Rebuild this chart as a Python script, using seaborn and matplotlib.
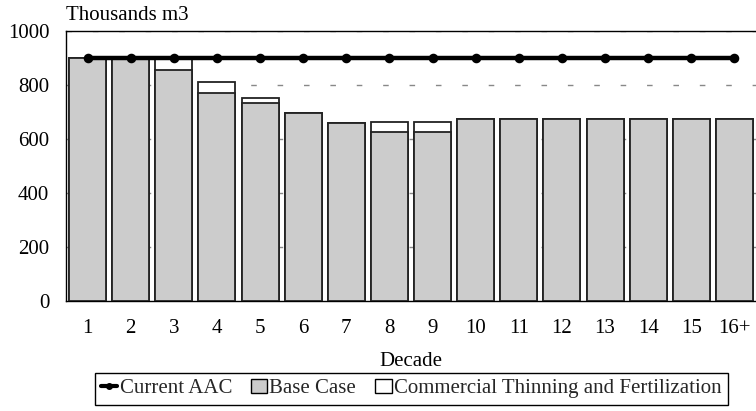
import matplotlib
matplotlib.use("Agg")
import matplotlib.pyplot as plt
from matplotlib.lines import Line2D
from matplotlib.patches import Patch
import seaborn as sns

# harvest per decade, thousands m3
decades = ['1', '2', '3', '4', '5', '6', '7', '8', '9', '10', '11', '12', '13', '14', '15', '16+']
base_case = [900, 900, 856, 771, 733, 697, 660, 626, 626, 675, 675, 675, 675, 675, 675, 675]
thinning_fert = [900, 900, 900, 812, 751, 697, 660, 662, 662, 675, 675, 675, 675, 675, 675, 675]
current_aac = [900] * 16

FS = 15

sns.set_theme(style="white")
plt.rcParams['font.family'] = ['Liberation Serif', 'DejaVu Serif']
plt.rcParams['font.size'] = FS

fig = plt.figure(figsize=(7.56, 4.11), dpi=100)
ax = fig.add_axes([0.0873, 0.2676, 0.9127, 0.657])

for y in range(200, 1001, 200):
    ax.axhline(y, color='#888888', lw=1, ls=(0, (4, 15)), zorder=0)

sns.barplot(x=decades, y=thinning_fert, color='white', edgecolor='#222222',
            linewidth=1.3, width=0.86, saturation=1, ax=ax, zorder=2)
sns.barplot(x=decades, y=base_case, color='#cccccc', edgecolor='#222222',
            linewidth=1.3, width=0.86, saturation=1, ax=ax, zorder=3)
sns.pointplot(x=decades, y=current_aac, color='black', markersize=4.5,
              linewidth=3.2, ax=ax, zorder=5)

ax.set_xlim(-0.5, 15.5)
ax.set_ylim(0, 1000)
ax.set_yticks(range(0, 1001, 200))
ax.tick_params(axis='x', length=0, pad=13, labelsize=FS)
ax.tick_params(axis='y', length=0, pad=12, labelsize=FS)
for t in ax.get_xticklabels() + ax.get_yticklabels():
    t.set_color('black')
ax.set_xlabel('Decade', fontsize=FS, labelpad=10, color='black')
ax.set_ylabel('')
ax.spines['right'].set_visible(False)
for s in ['left', 'bottom', 'top']:
    ax.spines[s].set_color('black')
    ax.spines[s].set_linewidth(1)

fig.text(0.0873, 0.963, 'Thousands m3', fontsize=FS, ha='left', va='center', color='black')

handles = [
    Line2D([0], [0], color='black', lw=3, marker='o', markersize=4),
    Patch(facecolor='#cccccc', edgecolor='black', lw=1),
    Patch(facecolor='white', edgecolor='black', lw=1),
]
labels = ['Current AAC', 'Base Case', 'Commercial Thinning and Fertilization']
fig.legend(handles, labels, loc='center', bbox_to_anchor=(0.5437, 0.054), ncol=3,
           frameon=True, fancybox=False, edgecolor='black', framealpha=1,
           handlelength=0.8, handleheight=0.6, handletextpad=0.1, columnspacing=0.9,
           borderpad=0.3, fontsize=FS, borderaxespad=0)

fig.savefig('out.png', dpi=100)
